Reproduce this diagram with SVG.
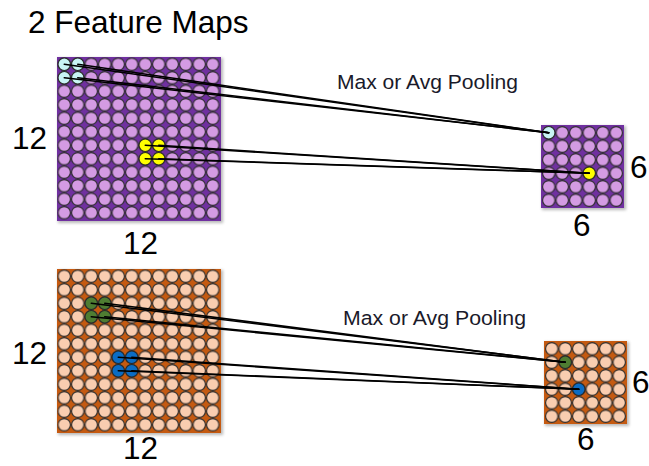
<svg xmlns="http://www.w3.org/2000/svg" width="649" height="466" viewBox="0 0 649 466">
  <style>
    text { font-family: "Liberation Sans", Arial, sans-serif; fill: #000; }
    .big { font-size: 31.5px; }
    .op { font-size: 20.5px; fill: #1a1a2a; }
    .cell { stroke: #2a2a2a; stroke-width: 1.1; }
    .shadow { fill: #b8b8b8; filter: url(#soft); }
    .links line { stroke: #000; stroke-width: 1.5; stroke-linecap: round; }
  </style>
  <defs>
    <filter id="soft" x="-10%" y="-10%" width="120%" height="120%">
      <feGaussianBlur stdDeviation="1.5"/>
    </filter>
    <!-- one grid cell: a ringed disc, tiled across each map -->
    <pattern id="pTL" patternUnits="userSpaceOnUse" x="57.5" y="57.5" width="13.5" height="13.5">
      <circle cx="6.75" cy="6.75" r="6.2" fill="#d49be3" class="cell"/>
    </pattern>
    <pattern id="pTR" patternUnits="userSpaceOnUse" x="542" y="126" width="13.5" height="13.5">
      <circle cx="6.75" cy="6.75" r="6.2" fill="#d49be3" class="cell"/>
    </pattern>
    <pattern id="pBL" patternUnits="userSpaceOnUse" x="57.5" y="269.5" width="13.5" height="13.5">
      <circle cx="6.75" cy="6.75" r="6.2" fill="#f9cdb0" class="cell"/>
    </pattern>
    <pattern id="pBR" patternUnits="userSpaceOnUse" x="545" y="342" width="13.5" height="13.5">
      <circle cx="6.75" cy="6.75" r="6.2" fill="#f9cdb0" class="cell"/>
    </pattern>
  </defs>

  <rect width="649" height="466" fill="#fff"/>

  <text class="big" x="28" y="33">2 Feature Maps</text>

  <!-- first feature map, 12 x 12 -->
  <g id="map1">
    <rect class="shadow" x="58" y="58" width="165" height="165"/>
    <rect x="57" y="57" width="164" height="164" fill="#7030a0"/>
    <rect x="57.5" y="57.5" width="162" height="162" fill="url(#pTL)"/>
    <g class="cell" fill="#c8f4f4">
      <circle cx="64.25" cy="64.25" r="6.2"/>
      <circle cx="77.75" cy="64.25" r="6.2"/>
      <circle cx="64.25" cy="77.75" r="6.2"/>
      <circle cx="77.75" cy="77.75" r="6.2"/>
    </g>
    <g class="cell" fill="#ffff00">
      <circle cx="145.25" cy="145.25" r="6.2"/>
      <circle cx="158.75" cy="145.25" r="6.2"/>
      <circle cx="145.25" cy="158.75" r="6.2"/>
      <circle cx="158.75" cy="158.75" r="6.2"/>
    </g>
    <text class="big" x="12" y="149">12</text>
    <text class="big" x="123" y="254">12</text>
  </g>

  <!-- first pooled map, 6 x 6 -->
  <g id="pool1">
    <rect class="shadow" x="542" y="126" width="84" height="84"/>
    <rect x="541" y="125" width="83" height="83" fill="#7030a0"/>
    <rect x="542" y="126" width="81" height="81" fill="url(#pTR)"/>
    <circle class="cell" cx="548.75" cy="132.75" r="6.2" fill="#c8f4f4"/>
    <circle class="cell" cx="589.25" cy="173.25" r="6.2" fill="#ffff00"/>
    <text class="big" x="630" y="178">6</text>
    <text class="big" x="573" y="236">6</text>
  </g>

  <!-- second feature map, 12 x 12 -->
  <g id="map2">
    <rect class="shadow" x="58" y="270" width="165" height="165"/>
    <rect x="57" y="269" width="164" height="164" fill="#c55a11"/>
    <rect x="57.5" y="269.5" width="162" height="162" fill="url(#pBL)"/>
    <g class="cell" fill="#4e7d32">
      <circle cx="91.25" cy="303.25" r="6.2"/>
      <circle cx="104.75" cy="303.25" r="6.2"/>
      <circle cx="91.25" cy="316.75" r="6.2"/>
      <circle cx="104.75" cy="316.75" r="6.2"/>
    </g>
    <g class="cell" fill="#0b6cc4">
      <circle cx="118.25" cy="357.25" r="6.2"/>
      <circle cx="131.75" cy="357.25" r="6.2"/>
      <circle cx="118.25" cy="370.75" r="6.2"/>
      <circle cx="131.75" cy="370.75" r="6.2"/>
    </g>
    <text class="big" x="12" y="364">12</text>
    <text class="big" x="123" y="459">12</text>
  </g>

  <!-- second pooled map, 6 x 6 -->
  <g id="pool2">
    <rect class="shadow" x="545" y="342" width="84" height="84"/>
    <rect x="544" y="341" width="83" height="83" fill="#c55a11"/>
    <rect x="545" y="342" width="81" height="81" fill="url(#pBR)"/>
    <circle class="cell" cx="565.25" cy="362.25" r="6.2" fill="#4e7d32"/>
    <circle class="cell" cx="578.75" cy="389.25" r="6.2" fill="#0b6cc4"/>
    <text class="big" x="632" y="393">6</text>
    <text class="big" x="577" y="450">6</text>
  </g>

  <g id="labels">
    <text class="op" x="337" y="89" textLength="181" lengthAdjust="spacingAndGlyphs">Max or Avg Pooling</text>
    <text class="op" x="343" y="325" textLength="183" lengthAdjust="spacingAndGlyphs">Max or Avg Pooling</text>
  </g>

  <!-- each 2x2 window feeds one pooled cell -->
  <g class="links">
    <line x1="64.25" y1="64.25" x2="548.75" y2="132.75"/>
    <line x1="77.75" y1="64.25" x2="548.75" y2="132.75"/>
    <line x1="64.25" y1="77.75" x2="548.75" y2="132.75"/>
    <line x1="77.75" y1="77.75" x2="548.75" y2="132.75"/>

    <line x1="145.25" y1="145.25" x2="589.25" y2="173.25"/>
    <line x1="158.75" y1="145.25" x2="589.25" y2="173.25"/>
    <line x1="145.25" y1="158.75" x2="589.25" y2="173.25"/>
    <line x1="158.75" y1="158.75" x2="589.25" y2="173.25"/>

    <line x1="91.25" y1="303.25" x2="565.25" y2="362.25"/>
    <line x1="104.75" y1="303.25" x2="565.25" y2="362.25"/>
    <line x1="91.25" y1="316.75" x2="565.25" y2="362.25"/>
    <line x1="104.75" y1="316.75" x2="565.25" y2="362.25"/>

    <line x1="118.25" y1="357.25" x2="578.75" y2="389.25"/>
    <line x1="131.75" y1="357.25" x2="578.75" y2="389.25"/>
    <line x1="118.25" y1="370.75" x2="578.75" y2="389.25"/>
    <line x1="131.75" y1="370.75" x2="578.75" y2="389.25"/>
  </g>
</svg>
